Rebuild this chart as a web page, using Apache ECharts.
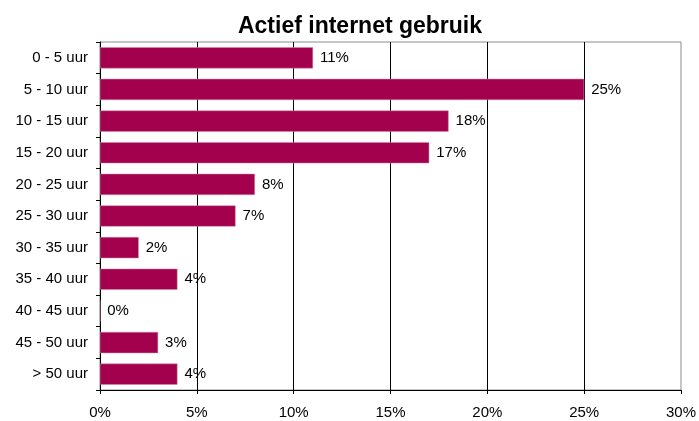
<!DOCTYPE html>
<html><head><meta charset="utf-8">
<script src="https://cdn.jsdelivr.net/npm/echarts@6/dist/echarts.min.js"></script>
<style>html,body{margin:0;padding:0;background:#fff}#c{width:699px;height:421px}</style>
</head><body><div id="c"></div>
<script>
const categories = ["0 - 5 uur","5 - 10 uur","10 - 15 uur","15 - 20 uur","20 - 25 uur","25 - 30 uur","30 - 35 uur","35 - 40 uur","40 - 45 uur","45 - 50 uur","> 50 uur"];
const values = [11, 25, 18, 17, 8, 7, 2, 4, 0, 3, 4];
const titleText = "Actief internet gebruik";
const font = "'Liberation Sans', Arial, sans-serif";
const chart = echarts.init(document.getElementById('c'), null, {renderer:'canvas'});
chart.setOption({
  animation:false,
  title:{text:titleText,left:355,textAlign:'center',top:10,textStyle:{fontFamily:font,fontSize:23,fontWeight:'bold',color:'#000'}},
  grid:{left:100,right:16,top:42,bottom:31,show:true,borderColor:'#8c8c8c',borderWidth:1,backgroundColor:'transparent'},
  xAxis:{type:'value',min:0,max:30,interval:5,
    axisLine:{show:true,lineStyle:{color:'#000'}},
    axisTick:{show:true,length:4,lineStyle:{color:'#000'}},
    axisLabel:{fontFamily:font,fontSize:15,color:'#000',margin:15,formatter:v=>v+'%'},
    splitLine:{show:true,showMinLine:false,showMaxLine:false,lineStyle:{color:'#000',width:1}}},
  yAxis:{type:'category',data:categories,inverse:true,
    axisLine:{show:true,lineStyle:{color:'#000'}},
    axisTick:{show:true,length:4,inside:false,lineStyle:{color:'#000'}},
    axisLabel:{fontFamily:font,fontSize:15,color:'#000',margin:12}},
  series:[{type:'bar',data:values,barCategoryGap:'33%',
    itemStyle:{color:'#A3004D',borderColor:'#d48aaa',borderWidth:0.5},
    label:{show:true,position:'right',distance:7,fontFamily:font,fontSize:15,color:'#000',formatter:p=>p.value+'%'}}]
});
</script></body></html>
